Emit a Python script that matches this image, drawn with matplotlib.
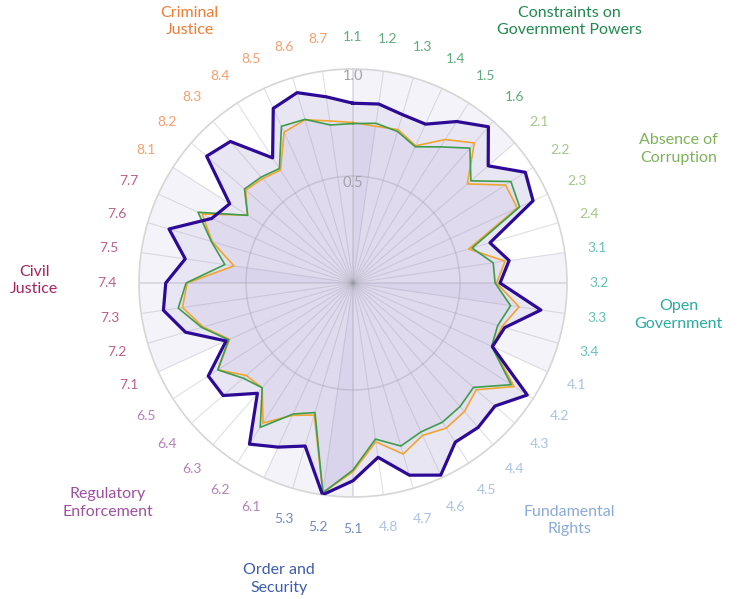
import numpy as np
import matplotlib
matplotlib.use('Agg')
import matplotlib.pyplot as plt

plt.rcParams['font.family'] = ['Lato', 'DejaVu Sans']

# factor groups (clockwise from the top)
factors = ['Constraints on\nGovernment Powers', 'Absence of\nCorruption', 'Open\nGovernment',
           'Fundamental\nRights', 'Order and\nSecurity', 'Regulatory\nEnforcement',
           'Civil\nJustice', 'Criminal\nJustice']
factor_sizes = [6, 4, 4, 8, 3, 5, 7, 7]
factor_colors = ['#1f8a4c', '#7db45a', '#2aab9f', '#8aaad8', '#3c5caf', '#9d509f', '#a3245e', '#f27b35']
# where the group names sit: (degrees clockwise from north, radius)
factor_label_pos = [(39.6, 1.585), (67.6, 1.645), (95.6, 1.53), (137.7, 1.50),
                    (194.0, 1.425), (228.1, 1.54), (270.5, 1.49), (328.0, 1.44)]

subfactors = ['1.1', '1.2', '1.3', '1.4', '1.5', '1.6',
              '2.1', '2.2', '2.3', '2.4',
              '3.1', '3.2', '3.3', '3.4',
              '4.1', '4.2', '4.3', '4.4', '4.5', '4.6', '4.7', '4.8',
              '5.1', '5.2', '5.3',
              '6.1', '6.2', '6.3', '6.4', '6.5',
              '7.1', '7.2', '7.3', '7.4', '7.5', '7.6', '7.7',
              '8.1', '8.2', '8.3', '8.4', '8.5', '8.6', '8.7']

purple = [0.84, 0.845, 0.82, 0.816, 0.897, 0.966,
          0.836, 0.957, 0.925, 0.667,
          0.737, 0.687, 0.887, 0.739,
          0.716, 0.968, 0.878, 0.893, 0.884, 0.987, 0.936, 0.823,
          0.924, 1.0, 0.794,
          0.843, 0.895, 0.682, 0.803, 0.804,
          0.652, 0.816, 0.895, 0.875, 0.792, 0.896, 0.726,
          0.685, 0.905, 0.875, 0.695, 0.897, 0.927, 0.879]
orange = [0.75, 0.74, 0.747, 0.705, 0.797, 0.866,
          0.707, 0.847, 0.844, 0.563,
          0.718, 0.671, 0.784, 0.725,
          0.716, 0.895, 0.762, 0.795, 0.806, 0.783, 0.833, 0.75,
          0.882, 0.99, 0.643,
          0.68, 0.778, 0.648, 0.66, 0.751,
          0.634, 0.73, 0.805, 0.775, 0.562, 0.686, 0.775,
          0.587, 0.663, 0.645, 0.627, 0.775, 0.795, 0.765]
green = [0.745, 0.754, 0.738, 0.70, 0.756, 0.834,
         0.729, 0.877, 0.856, 0.58,
         0.662, 0.664, 0.744, 0.705,
         0.712, 0.879, 0.745, 0.764, 0.773, 0.765, 0.794, 0.737,
         0.874, 0.99, 0.631,
         0.673, 0.802, 0.648, 0.679, 0.751,
         0.639, 0.737, 0.825, 0.78, 0.605, 0.69, 0.796,
         0.585, 0.671, 0.655, 0.636, 0.805, 0.797, 0.746]

r_ticks = [0.5, 1.0]

n = len(subfactors)
step = 2 * np.pi / n
theta = np.arange(n) * step
theta_c = np.append(theta, theta[0])

def closed(v):
    return np.append(v, v[0])

fig = plt.figure(figsize=(7.4, 5.99), dpi=100)
ax = fig.add_axes([139/740, 102/599, 428/740, 428/599], projection='polar')
ax.set_theta_zero_location('N')
ax.set_theta_direction(-1)
ax.set_ylim(0, 1)

# alternating factor shading
starts = np.cumsum([0] + factor_sizes[:-1])
for k in range(0, len(factor_sizes), 2):
    ax.bar(starts[k] * step + factor_sizes[k] * step / 2, 1.0, width=factor_sizes[k] * step,
           bottom=0, color='#f4f3f9', linewidth=0, zorder=0.5)

# fills
ax.fill(theta_c, closed(purple), color='#e9e6f4', lw=0, zorder=1)
ax.fill(theta_c, closed(orange), color='#2e0a9a', alpha=0.025, lw=0, zorder=1.1)
ax.fill(theta_c, closed(green), color='#2e0a9a', alpha=0.025, lw=0, zorder=1.1)
inner = np.minimum(orange, green)
for q in range(0, n, n // 4):
    ax.fill([0, theta[q], theta[(q + 1) % n]], [0, inner[q], inner[(q + 1) % n]],
            color='#2e0a9a', alpha=0.03, lw=0, zorder=1.2)

# grid
ax.set_xticks(theta)
ax.set_xticklabels([])
ax.set_yticks([0.5])
ax.set_yticklabels([])
ax.xaxis.grid(True, color='#9a9aa6', alpha=0.3, lw=0.8)
ax.yaxis.grid(True, color='#9a9aa6', alpha=0.35, lw=1.1)
gl = ax.xaxis.get_gridlines()
for q in range(0, n, n // 4):
    gl[q].set_linewidth(1.3)
ax.spines['polar'].set_color('#d6d6d6')
ax.spines['polar'].set_linewidth(1.2)

# series
ax.plot(theta_c, closed(orange), color='#f0a530', lw=1.2, zorder=3)
ax.plot(theta_c, closed(green), color='#3d9d4d', lw=1.2, zorder=3.1)
ax.plot(theta_c, closed(purple), color='#2d0a96', lw=2.3, zorder=4)

# radial labels
for v in r_ticks:
    ax.text(0, v - 0.035, f'{v:.1f}', color='#a2a2aa', fontsize=10.5, ha='center', va='center',
            zorder=2)

# subfactor labels
idx = 0
for k, size in enumerate(factor_sizes):
    for j in range(size):
        ax.text(theta[idx], 1.15, subfactors[idx], color=factor_colors[k], alpha=0.72,
                fontsize=10, ha='center', va='center')
        idx += 1

# factor names
for name, col, (ang, rad) in zip(factors, factor_colors, factor_label_pos):
    ax.text(np.deg2rad(ang), rad, name, color=col, fontsize=11.5, ha='center', va='center',
            linespacing=1.3)

fig.savefig('out.png', dpi=100)
